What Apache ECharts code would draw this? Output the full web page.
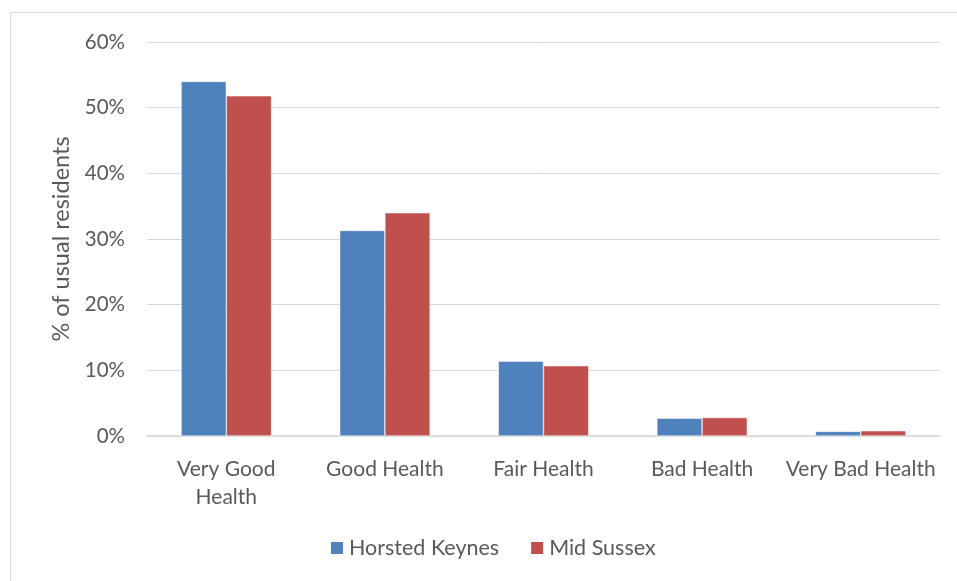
<!DOCTYPE html>
<html>
<head>
<meta charset="utf-8">
<script src="https://cdn.jsdelivr.net/npm/echarts@6/dist/echarts.min.js"></script>
<style>
  html, body { margin: 0; padding: 0; background: #fff; }
  #main { width: 957px; height: 581px; }
</style>
</head>
<body>
<div id="main"></div>
<script>
var categories = ['Very Good\nHealth', 'Good Health', 'Fair Health', 'Bad Health', 'Very Bad Health'];
var horstedKeynes = [54.0, 31.3, 11.4, 2.7, 0.7];
var midSussex = [51.8, 34.0, 10.7, 2.8, 0.8];
var yTicks = [0, 10, 20, 30, 40, 50, 60];

var myChart = echarts.init(document.getElementById('main'));
var textColor = '#595959';
var fontFam = 'Lato, "Open Sans", sans-serif';

myChart.setOption({
    animation: false,
    graphic: [{
        type: 'rect',
        shape: { x: 10.5, y: 12.5, width: 960, height: 600 },
        style: { fill: 'none', stroke: '#d9d9d9', lineWidth: 1 },
        silent: true
    }],
    grid: { left: 147, right: 17, top: 42, bottom: 145 },
    legend: {
        bottom: 17,
        left: 324,
        itemWidth: 14,
        itemHeight: 14,
        itemGap: 30,
        icon: 'rect',
        textStyle: { color: textColor, fontSize: 21.5, fontFamily: fontFam },
        data: ['Horsted Keynes', 'Mid Sussex']
    },
    xAxis: {
        type: 'category',
        data: categories,
        axisLine: { lineStyle: { color: '#d9d9d9', width: 1.5 } },
        axisTick: { show: false },
        axisLabel: { color: textColor, fontSize: 21, fontFamily: fontFam, margin: 19, lineHeight: 28, interval: 0 }
    },
    yAxis: {
        type: 'value',
        min: yTicks[0],
        max: yTicks[yTicks.length - 1],
        interval: 10,
        name: '% of usual residents',
        nameLocation: 'middle',
        nameGap: 74,
        nameTextStyle: { color: textColor, fontSize: 23.5, fontFamily: fontFam },
        axisLine: { show: false },
        axisTick: { show: false },
        axisLabel: { color: textColor, fontSize: 20.5, fontFamily: fontFam, margin: 22, formatter: '{value}%' },
        splitLine: { lineStyle: { color: '#d9d9d9', width: 1 } }
    },
    series: [{
        name: 'Horsted Keynes',
        type: 'bar',
        data: horstedKeynes,
        barGap: '0%',
        barCategoryGap: '43%',
        itemStyle: { color: '#4f81bd', borderColor: '#ffffff', borderWidth: 0.5 }
    }, {
        name: 'Mid Sussex',
        type: 'bar',
        data: midSussex,
        itemStyle: { color: '#c0504d', borderColor: '#ffffff', borderWidth: 0.5 }
    }]
});
</script>
</body>
</html>
